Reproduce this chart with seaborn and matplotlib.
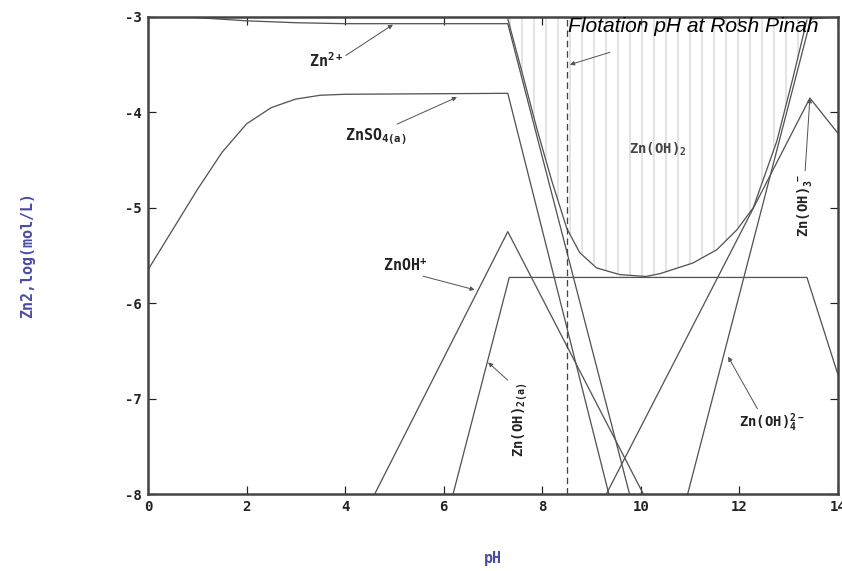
import matplotlib
matplotlib.use('Agg')
import matplotlib.pyplot as plt
import numpy as np
import seaborn as sns

sns.set_style('ticks')
plt.rcParams['font.family'] = ['DejaVu Sans Mono', 'DejaVu Sans']
plt.rcParams['mathtext.fontset'] = 'custom'
plt.rcParams['mathtext.rm'] = 'DejaVu Sans Mono'
plt.rcParams['mathtext.bf'] = 'DejaVu Sans Mono:bold'
plt.rcParams['hatch.linewidth'] = 0.8
plt.rcParams['axes.unicode_minus'] = False

# species curves, log concentration vs pH
zn_ph = [0.0, 0.8, 2.0, 3.0, 4.0, 5.0, 7.3, 9.77]
zn_log = [-2.98, -3.0, -3.04, -3.06, -3.07, -3.07, -3.07, -8.0]

znso4_ph = [0.0, 0.5, 1.0, 1.5, 2.0, 2.5, 3.0, 3.5, 4.0, 7.3, 9.35]
znso4_log = [-5.65, -5.23, -4.81, -4.42, -4.12, -3.95, -3.86, -3.82, -3.81, -3.80, -8.0]

znoh_ph = [4.6, 7.3, 10.05]
znoh_log = [-8.0, -5.25, -8.0]

znoh2aq_ph = [6.19, 7.33, 13.37, 14.0]
znoh2aq_log = [-8.0, -5.73, -5.73, -6.75]

znoh3_ph = [9.3, 13.43, 14.0]
znoh3_log = [-8.0, -3.85, -4.22]

znoh4_ph = [10.95, 13.45, 14.0]
znoh4_log = [-8.0, -3.02, -3.0]

# total dissolved zinc where Zn(OH)2 precipitates (hatched region)
tot_ph = [7.3, 7.6, 7.9, 8.2, 8.5, 8.76, 9.1, 9.57, 10.1, 10.39, 11.05,
          11.54, 11.95, 12.28, 12.76, 13.09, 13.37]
tot_log = [-3.02, -3.6, -4.19, -4.73, -5.22, -5.47, -5.63, -5.70, -5.72, -5.69,
           -5.58, -5.44, -5.23, -5.0, -4.3, -3.63, -3.03]

flotation_ph = 8.5

fig = plt.figure(figsize=(842 / 72, 571 / 72), dpi=72)
ax = fig.add_axes([148 / 842, 1 - 494 / 571, 690 / 842, 477 / 571])

lc = '#555555'
ax.fill_between(tot_ph, tot_log, -3, facecolor='none', edgecolor='#bdbdbd',
                hatch='|', linewidth=0)

for xs, ys in [(zn_ph, zn_log), (znso4_ph, znso4_log), (znoh_ph, znoh_log),
               (znoh2aq_ph, znoh2aq_log), (znoh3_ph, znoh3_log),
               (znoh4_ph, znoh4_log), (tot_ph, tot_log)]:
    sns.lineplot(x=xs, y=ys, ax=ax, color=lc, linewidth=1.3, sort=False,
                 estimator=None, legend=False)

ax.axvline(flotation_ph, color='#444444', linestyle=(0, (5, 3)), linewidth=1.3)

ax.set_xlim(0, 14)
ax.set_ylim(-8, -3)
ax.set_xticks(np.arange(0, 15, 2))
ax.set_yticks(np.arange(-8, -2, 1))
ax.tick_params(direction='in', length=8, width=1.2, top=True, right=True,
               labelsize=14, colors='#222222', pad=6)
for lab in ax.get_xticklabels() + ax.get_yticklabels():
    lab.set_fontweight('bold')
for sp in ax.spines.values():
    sp.set_linewidth(2.5)
    sp.set_color('#444444')

ax.set_xlabel('pH', fontsize=15, fontweight='bold', color='#4a4aa8', labelpad=37)
ax.set_ylabel('Zn2,log(mol/L)', fontsize=15, fontweight='bold', color='#4a4aa8',
              labelpad=90)

tc = '#222222'
akw = dict(arrowstyle='-|>', color='#555555', lw=1.0, mutation_scale=9,
           shrinkA=0, shrinkB=0)

ax.annotate(r'$\mathbf{Zn^{2+}}$', xy=(4.97, -3.08), xytext=(3.61, -3.46),
            ha='center', va='center', fontsize=15, color=tc,
            arrowprops=dict(akw, relpos=(1.0, 0.7)))
ax.annotate(r'$\mathbf{ZnSO_{4(a)}}$', xy=(6.27, -3.84), xytext=(4.63, -4.26),
            ha='center', va='center', fontsize=15, color=tc,
            arrowprops=dict(akw, relpos=(0.75, 1.0)))
ax.annotate(r'$\mathbf{ZnOH^{+}}$', xy=(6.63, -5.86), xytext=(5.21, -5.6),
            ha='center', va='center', fontsize=15, color=tc,
            arrowprops=dict(akw, relpos=(0.7, 0.0)))
ax.annotate(r'$\mathbf{Zn(OH)_{2(a)}}$', xy=(6.9, -6.62), xytext=(7.55, -7.22),
            ha='center', va='center', fontsize=14, color=tc, rotation=90,
            arrowprops=dict(akw, relpos=(0.0, 1.0)))
ax.text(10.35, -4.39, r'$\mathbf{Zn(OH)_{2}}$', ha='center', va='center',
        fontsize=14, color='#444444')
ax.annotate(r'$\mathbf{Zn(OH)_{3}^{\ -}}$', xy=(13.43, -3.85), xytext=(13.33, -4.97),
            ha='center', va='center', fontsize=14, color=tc, rotation=90,
            arrowprops=dict(akw, relpos=(0.5, 1.0)))
ax.annotate(r'$\mathbf{Zn(OH)_{4}^{2-}}$', xy=(11.77, -6.56), xytext=(12.66, -7.25),
            ha='center', va='center', fontsize=14, color=tc,
            arrowprops=dict(akw, relpos=(0.3, 1.0)))

ax.text(8.52, -3.0, 'Flotation pH at Rosh Pinah', family='Liberation Sans',
        style='italic', fontsize=21, ha='left', va='top', color='black')
ax.annotate('', xy=(8.56, -3.5), xytext=(9.37, -3.37), arrowprops=akw)

fig.savefig('out.png', dpi=72)
